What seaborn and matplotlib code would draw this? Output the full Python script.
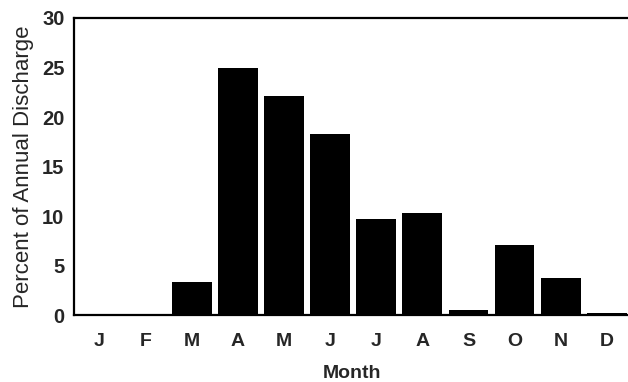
import matplotlib
matplotlib.use("Agg")
import matplotlib.pyplot as plt
import seaborn as sns
import pandas as pd

months = ["J", "F", "M", "A", "M", "J", "J", "A", "S", "O", "N", "D"]
percent = [0.0, 0.0, 3.3, 24.9, 22.1, 18.3, 9.7, 10.3, 0.5, 7.1, 3.8, 0.2]
y_ticks = [0, 5, 10, 15, 20, 25, 30]

sns.set_theme(style="white")
plt.rcParams["font.family"] = ["Liberation Sans", "DejaVu Sans"]

df = pd.DataFrame({"idx": range(len(months)), "pct": percent})

fig = plt.figure(figsize=(6.28, 3.82), dpi=100)
ax = fig.add_axes([0.118, 0.175, 0.885, 0.778])
sns.barplot(data=df, x="idx", y="pct", color="black", width=0.86,
            saturation=1, ax=ax, edgecolor="black", linewidth=0)

ax.set_xlim(-0.55, 11.5)
ax.set_ylim(0, 30)
ax.set_yticks(y_ticks)
ax.set_yticklabels([str(v) for v in y_ticks], fontsize=14.5, fontweight="bold")
ax.set_xticks(range(len(months)))
ax.set_xticklabels(months, fontsize=14, fontweight="bold")
ax.tick_params(axis="both", length=0)
ax.tick_params(axis="x", pad=13)
ax.tick_params(axis="y", pad=7)

ax.set_xlabel("Month", fontsize=14, fontweight="bold", labelpad=11)
ax.set_ylabel("Percent of Annual Discharge", fontsize=16, labelpad=6)

for side in ["left", "top", "bottom"]:
    ax.spines[side].set_visible(True)
    ax.spines[side].set_color("black")
    ax.spines[side].set_linewidth(1.6)
ax.spines["right"].set_visible(False)

fig.savefig("out.png", dpi=100)
